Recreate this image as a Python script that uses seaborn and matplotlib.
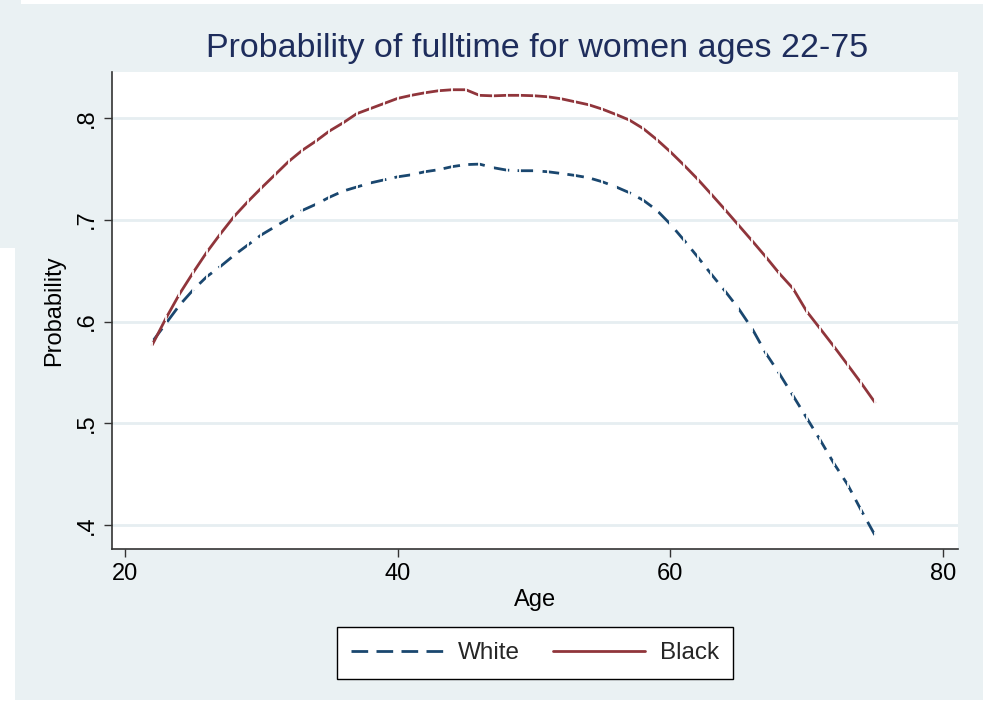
import numpy as np
import pandas as pd
import matplotlib
matplotlib.use("Agg")
import matplotlib.pyplot as plt
from matplotlib.patches import Rectangle
from matplotlib.lines import Line2D
import seaborn as sns

ages = list(range(22, 76))
white = [0.580, 0.598, 0.616, 0.631, 0.644, 0.654, 0.665, 0.675, 0.685, 0.693,
         0.701, 0.709, 0.715, 0.722, 0.728, 0.732, 0.736, 0.739, 0.742, 0.744,
         0.747, 0.749, 0.752, 0.754, 0.7545, 0.751, 0.7486, 0.748, 0.748, 0.747,
         0.7453, 0.7434, 0.7411, 0.7372, 0.7322, 0.7264, 0.7192, 0.7093, 0.6956, 0.6799,
         0.6635, 0.6465, 0.6301, 0.6128, 0.593, 0.569, 0.5488, 0.5272, 0.5054, 0.4835,
         0.4607, 0.440, 0.4147, 0.3905]
black = [0.577, 0.603, 0.627, 0.648, 0.668, 0.686, 0.703, 0.7175, 0.731, 0.744,
         0.757, 0.768, 0.777, 0.787, 0.795, 0.804, 0.809, 0.814, 0.819, 0.822,
         0.8245, 0.8265, 0.8275, 0.8275, 0.822, 0.8215, 0.822, 0.822, 0.8216, 0.8206,
         0.8186, 0.8157, 0.8128, 0.8085, 0.8033, 0.7977, 0.7895, 0.7787, 0.7666, 0.7535,
         0.7398, 0.7250, 0.7100, 0.6946, 0.6792, 0.6635, 0.6471, 0.6324, 0.6100, 0.5928,
         0.5755, 0.5576, 0.5396, 0.5207]
groups = ["White", "Black"]
xticks = [20, 40, 60, 80]
yticks = [0.4, 0.5, 0.6, 0.7, 0.8]
ytick_labels = [".4", ".5", ".6", ".7", ".8"]

df = pd.DataFrame({
    "Age": ages * 2,
    "Probability": white + black,
    "Race": ["White"] * len(ages) + ["Black"] * len(ages),
})

sns.set_theme(style="white")
plt.rcParams["font.family"] = ["Liberation Sans", "DejaVu Sans"]

BG = "#EAF1F3"
NAVY = "#1A476F"
MAROON = "#90353B"

fig = plt.figure(figsize=(9.92, 7.03), dpi=100)
fig.patch.set_facecolor("white")
W, H = 992, 703
fig.patches.append(Rectangle((15 / W, 1 - 700 / H), (983 - 15) / W, (700 - 4) / H,
                             transform=fig.transFigure, facecolor=BG, edgecolor="none", zorder=-10))
fig.patches.append(Rectangle((0, 1 - 248 / H), 21 / W, 248 / H,
                             transform=fig.transFigure, facecolor=BG, edgecolor="none", zorder=-10))

ax = fig.add_axes([112 / W, 1 - 549 / H, (958 - 112) / W, (549 - 72) / H])
ax.set_facecolor("white")
ax.set_zorder(1)

sns.lineplot(data=df, x="Age", y="Probability", hue="Race", style="Race",
             hue_order=groups, style_order=groups,
             palette={"White": NAVY, "Black": MAROON},
             dashes={"White": (6, 3), "Black": ""},
             markers={"White": "|", "Black": "|"}, markersize=4.5, markeredgewidth=1.3,
             linewidth=2, ax=ax, legend=False)

ax.set_xlim(19.05, 81.1)
ax.set_ylim(0.3767, 0.8449)
ax.set_xticks(xticks)
ax.set_xticklabels([str(v) for v in xticks])
ax.set_yticks(yticks)
ax.set_yticklabels(ytick_labels, rotation=90, va="center")
ax.grid(axis="y", color="#E6EEF1", linewidth=2)
ax.grid(axis="x", visible=False)
ax.set_axisbelow(True)
for s in ["top", "right"]:
    ax.spines[s].set_visible(False)
for s in ["left", "bottom"]:
    ax.spines[s].set_color("#333333")
    ax.spines[s].set_linewidth(1.2)
ax.tick_params(axis="both", which="major", length=6, width=1, color="#333333",
               labelsize=17, labelcolor="black", left=True, bottom=True, pad=4)
ax.set_xlabel("Age", fontsize=17, color="black", labelpad=3)
ax.set_ylabel("Probability", fontsize=17, color="black", labelpad=8)

fig.text(537 / W, 1 - 48 / H, "Probability of fulltime for women ages 22-75",
         ha="center", va="center", fontsize=24.5, color="#1E2D5C")

handles = [Line2D([], [], color=NAVY, lw=2, dashes=(6, 3)),
           Line2D([], [], color=MAROON, lw=2)]
leg = fig.legend(handles, groups, loc="center", bbox_to_anchor=(535 / W, 1 - 653 / H),
                 ncol=2, frameon=True, fancybox=False, fontsize=17.5, framealpha=1,
                 handlelength=3.8, columnspacing=1.35, handletextpad=0.6,
                 borderpad=0.6, edgecolor="black")
leg.get_frame().set_linewidth(1)
leg.get_frame().set_facecolor("white")

fig.savefig("out.png", dpi=100, facecolor=fig.get_facecolor())
